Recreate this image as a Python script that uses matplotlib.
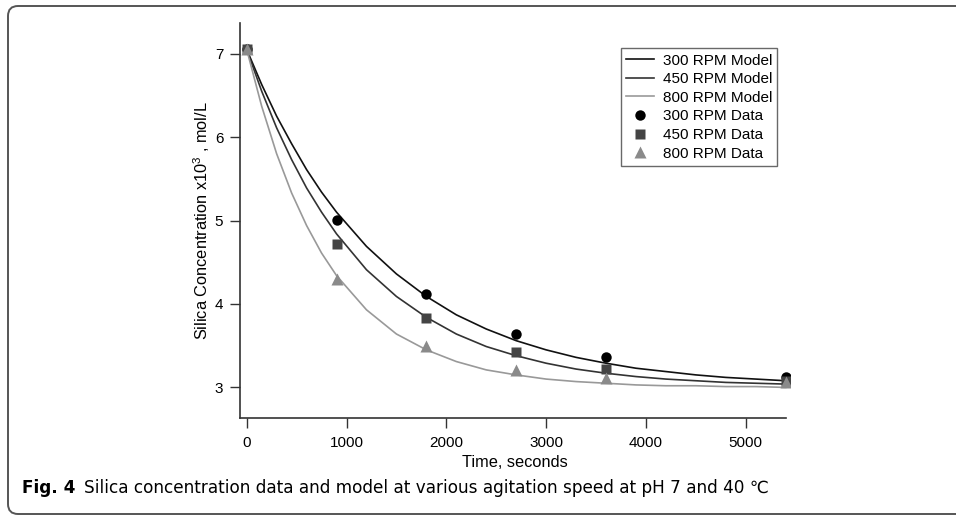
import matplotlib
matplotlib.use("Agg")
import matplotlib.pyplot as plt
from matplotlib.path import Path
from matplotlib.patches import PathPatch

plt.rcParams["font.family"] = ["Liberation Sans", "DejaVu Sans"]

# measured samples
t_data = [0, 900, 1800, 2700, 3600, 5400]
c300_data = [7.05, 5.01, 4.12, 3.64, 3.37, 3.13]
c450_data = [7.05, 4.72, 3.83, 3.42, 3.22, 3.08]
c800_data = [7.05, 4.30, 3.50, 3.21, 3.11, 3.06]

# model curves
t_model = [0, 150, 300, 450, 600, 750, 900, 1200, 1500, 1800, 2100, 2400,
           2700, 3000, 3300, 3600, 3900, 4200, 4500, 4800, 5100, 5400]
c300_model = [7.05, 6.63, 6.25, 5.92, 5.61, 5.34, 5.10, 4.69, 4.36, 4.09, 3.87,
              3.70, 3.56, 3.45, 3.36, 3.29, 3.23, 3.19, 3.15, 3.12, 3.10, 3.08]
c450_model = [7.05, 6.55, 6.11, 5.73, 5.39, 5.10, 4.84, 4.41, 4.09, 3.84, 3.64,
              3.49, 3.38, 3.29, 3.22, 3.17, 3.13, 3.10, 3.08, 3.06, 3.05, 3.04]
c800_model = [7.05, 6.37, 5.80, 5.33, 4.94, 4.61, 4.34, 3.93, 3.64, 3.45, 3.31,
              3.21, 3.15, 3.10, 3.07, 3.05, 3.03, 3.02, 3.02, 3.01, 3.01, 3.00]

W, H = 956, 516
fig = plt.figure(figsize=(W / 100, H / 100), dpi=100)

# panel frame: top and left edges with rounded corners, open to the right
r = 10
x0, top, bot = 8, H - 6, 2
verts = [(W + 20, top), (x0 + r, top), (x0, top), (x0, top - r),
         (x0, bot + r), (x0, bot), (x0 + r, bot), (W + 20, bot)]
codes = [Path.MOVETO, Path.LINETO, Path.CURVE3, Path.CURVE3,
         Path.LINETO, Path.CURVE3, Path.CURVE3, Path.LINETO]
verts = [(vx / W, vy / H) for vx, vy in verts]
frame = PathPatch(Path(verts, codes), transform=fig.transFigure, fill=False,
                  edgecolor="#555555", linewidth=1.4)
fig.patches.append(frame)

ax = fig.add_axes([240 / W, 1 - 418.3 / H, (789.7 - 240) / W, (418.3 - 22.7) / H])

ax.plot(t_model, c300_model, color="#111111", lw=1.2, label="300 RPM Model")
ax.plot(t_model, c450_model, color="#333333", lw=1.2, label="450 RPM Model")
ax.plot(t_model, c800_model, color="#999999", lw=1.2, label="800 RPM Model")
ax.plot(t_data, c300_data, "o", color="#000000", ms=7.5, mec="none", label="300 RPM Data")
ax.plot(t_data, c450_data, "s", color="#444444", ms=7, mec="none", label="450 RPM Data")
ax.plot(t_data, c800_data, "^", color="#8a8a8a", ms=8, mec="none", label="800 RPM Data")

ax.set_xlim(-67, 5440)
ax.set_ylim(2.63, 7.37)
ax.spines["top"].set_visible(False)
ax.spines["right"].set_visible(False)
ax.spines["bottom"].set_bounds(-67, 5400)
for s in ("left", "bottom"):
    ax.spines[s].set_color("#333333")
    ax.spines[s].set_linewidth(1.2)
ax.set_xticks([0, 1000, 2000, 3000, 4000, 5000])
ax.set_yticks([3, 4, 5, 6, 7])
ax.tick_params(direction="out", length=7, width=1, color="#333333", labelsize=11)
ax.tick_params(axis="x", pad=6)
ax.tick_params(axis="y", pad=5)

ax.set_xlabel("Time, seconds", fontsize=11.8, labelpad=3)
ax.set_ylabel(r"Silica Concentration x10$^{\mathregular{3}}$ , mol/L", fontsize=11.8,
              labelpad=2)

leg = ax.legend(loc="upper left",
                bbox_to_anchor=((620.7 - 240) / 549.7, (418.3 - 48.3) / 395.6),
                fontsize=11, frameon=True, fancybox=False, borderpad=0.35,
                handlelength=1.8, handletextpad=0.6, labelspacing=0.3,
                borderaxespad=0)
leg.get_frame().set_edgecolor("#444444")
leg.get_frame().set_linewidth(1.0)

cap_fam = ["Liberation Sans Narrow", "DejaVu Sans"]
t1 = fig.text(22 / W, 1 - 488 / H, "Fig. 4", fontsize=12.2, fontweight="bold",
              family=cap_fam, va="center", ha="left")
ax.annotate("Silica concentration data and model at various agitation speed at pH 7 and 40 \u2103",
            xy=(1, 0.5), xycoords=t1, xytext=(6, 0), textcoords="offset points",
            fontsize=12.2, family=cap_fam, va="center", ha="left", annotation_clip=False)

fig.savefig("out.png", dpi=100)
